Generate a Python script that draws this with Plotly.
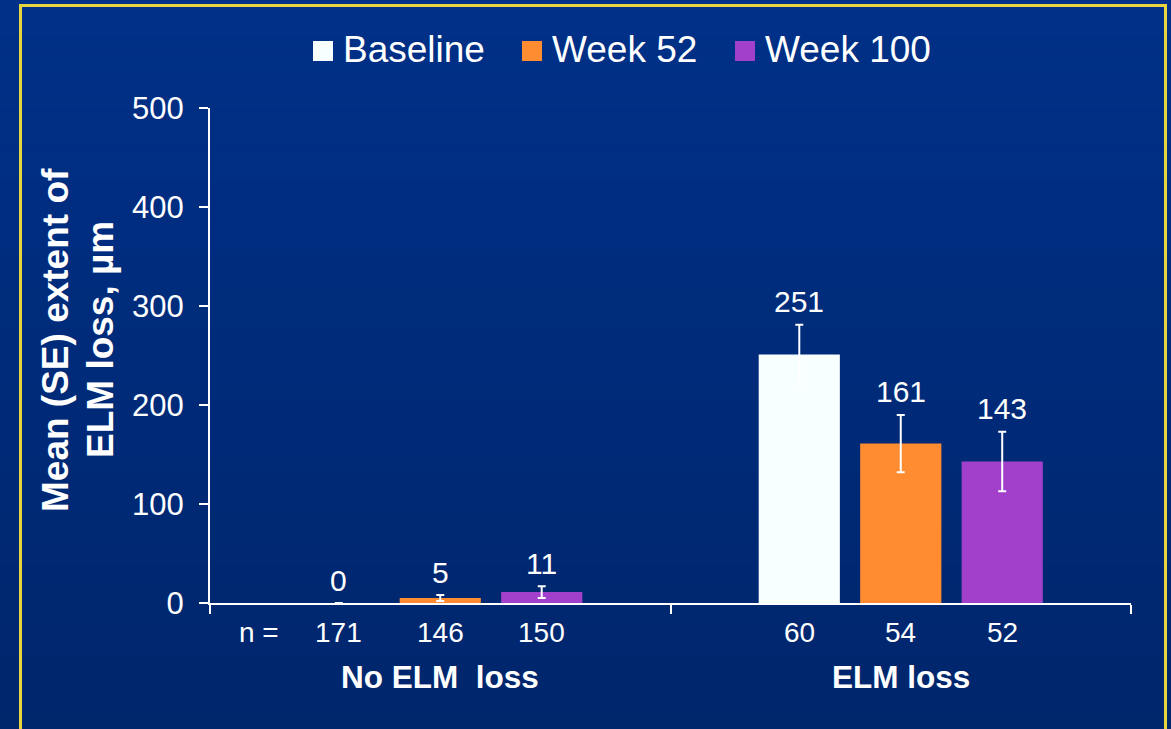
import plotly.graph_objects as go

# Groups and timepoints
groups = ["No ELM\u00a0 loss", "ELM loss"]
series_names = ["Baseline", "Week 52", "Week 100"]
series_colors = ["#F7FFFF", "#FF8C30", "#A23FCB"]

# Mean extent of ELM loss (µm) and standard errors
baseline_mean = [0, 251]
week52_mean = [5, 161]
week100_mean = [11, 143]
baseline_se = [None, 30]
week52_se = [3, 29]
week100_se = [6, 30]

# Number of eyes per bar
baseline_n = [171, 60]
week52_n = [146, 54]
week100_n = [150, 52]

means = [baseline_mean, week52_mean, week100_mean]
ses = [baseline_se, week52_se, week100_se]
ns = [baseline_n, week52_n, week100_n]

W, H = 1171, 729
ML, MR, MT, MB = 210, 40, 108, 126
PW, PH = W - ML - MR, H - MT - MB
BARGAP, GROUPGAP = 0.339, 0.2

FONT = "Liberation Sans, Arial, sans-serif"


def px_x(px):
    return (px - ML) / PW


def px_y(py):
    return (H - MB - py) / PH


fig = go.Figure()
for name, color, m, s in zip(series_names, series_colors, means, ses):
    fig.add_trace(go.Bar(
        name=name, x=groups, y=m,
        marker=dict(color=color, line=dict(width=0)),
        error_y=dict(type="data", array=s, visible=True, color="white",
                     thickness=2, width=4),
        showlegend=False,
    ))

# bar centre offsets inside a category (in category units)
slot = (1 - BARGAP) / len(series_names)
offsets = [(i - (len(series_names) - 1) / 2) * slot for i in range(len(series_names))]

annotations = []
for i, (m, s, n) in enumerate(zip(means, ses, ns)):
    for g in range(len(groups)):
        xc = g + offsets[i]
        top = m[g] + (s[g] or 0)
        annotations.append(dict(
            x=xc, y=top, xref="x", yref="y", text=str(m[g]),
            showarrow=False, yanchor="middle", yshift=23,
            font=dict(size=30, color="white", family=FONT)))
        annotations.append(dict(
            x=xc, y=px_y(632), xref="x", yref="paper", text=str(n[g]),
            showarrow=False, yanchor="middle",
            font=dict(size=28, color="white", family=FONT)))

annotations.append(dict(
    x=px_x(237), y=px_y(632), xref="paper", yref="paper", text="n =",
    showarrow=False, yanchor="middle",
    font=dict(size=28, color="white", family=FONT)))

for g, label in enumerate(groups):
    annotations.append(dict(
        x=g, y=px_y(677), xref="x", yref="paper", text="<b>%s</b>" % label,
        showarrow=False, yanchor="middle",
        font=dict(size=31.5, color="white", family=FONT)))

# two-line y-axis title
for line, cx in (("Mean (SE) extent of", 55), ("ELM loss, µm", 100)):
    annotations.append(dict(
        x=px_x(cx), y=px_y(340), xref="paper", yref="paper",
        text="<b>%s</b>" % line, textangle=-90,
        showarrow=False, xanchor="center", yanchor="middle",
        font=dict(size=37, color="white", family=FONT)))

shapes = []

# vertical gradient background, then the yellow frame
top_rgb, bot_rgb = (0, 48, 136), (0, 38, 108)
bands = 40
for k in range(bands):
    t = (k + 0.5) / bands
    r, g_, b = [round(a + (c - a) * t) for a, c in zip(top_rgb, bot_rgb)]
    y0 = H * k / bands
    y1 = H * (k + 1) / bands + 1
    shapes.append(dict(
        type="rect", xref="paper", yref="paper", layer="below",
        x0=px_x(-5), x1=px_x(W + 5), y0=px_y(y1), y1=px_y(y0),
        fillcolor="rgb(%d,%d,%d)" % (r, g_, b), line=dict(width=0)))
shapes.append(dict(
    type="rect", xref="paper", yref="paper", layer="below",
    x0=px_x(20.5), x1=px_x(1165.5), y0=px_y(H + 20), y1=px_y(5.5),
    fillcolor="rgba(0,0,0,0)", line=dict(color="#E6D53C", width=3)))

# legend: colour swatch + series name for each timepoint
legend_swatch_left = [313, 522, 735]
for name, color, sx in zip(series_names, series_colors, legend_swatch_left):
    shapes.append(dict(
        type="rect", xref="paper", yref="paper", layer="above",
        x0=px_x(sx), x1=px_x(sx + 20), y0=px_y(61), y1=px_y(41),
        fillcolor=color, line=dict(width=0)))
    annotations.append(dict(
        x=px_x(sx + 28), y=px_y(50), xref="paper", yref="paper",
        text=name, showarrow=False, xanchor="left", yanchor="middle",
        font=dict(size=37, color="white", family=FONT)))

fig.update_layout(
    width=W, height=H,
    margin=dict(l=ML, r=MR, t=MT, b=MB, pad=0),
    paper_bgcolor="rgb(0,43,122)", plot_bgcolor="rgba(0,0,0,0)",
    barmode="group", bargap=BARGAP, bargroupgap=GROUPGAP,
    font=dict(family=FONT, color="white"),
    showlegend=False,
    xaxis=dict(type="category", showticklabels=False, tickson="boundaries",
               ticks="outside", ticklen=9, tickwidth=2, tickcolor="white",
               showline=True, linecolor="white", linewidth=2,
               showgrid=False, zeroline=False, fixedrange=True),
    yaxis=dict(range=[0, 500], dtick=100, ticks="outside", ticklen=9,
               tickwidth=2, tickcolor="white", showline=True,
               linecolor="white", linewidth=2, showgrid=False,
               zeroline=False, ticklabelstandoff=9,
               tickfont=dict(size=31, color="white", family=FONT),
               fixedrange=True),
    annotations=annotations,
    shapes=shapes,
)

fig.write_html("out.html")
